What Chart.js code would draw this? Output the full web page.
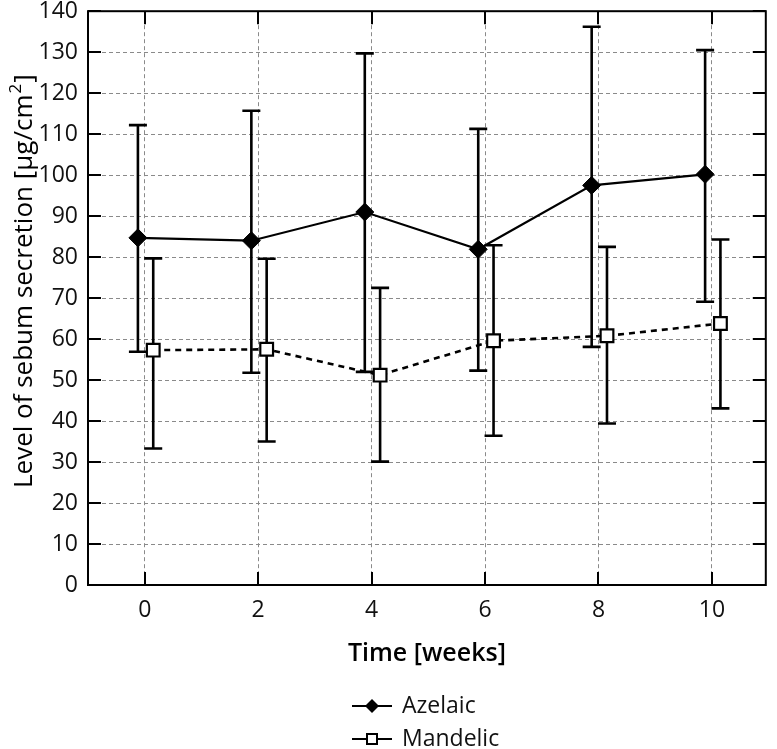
<!DOCTYPE html>
<html><head><meta charset="utf-8">
<script src="https://cdn.jsdelivr.net/npm/chart.js@4.4.0/dist/chart.umd.min.js"></script>
<style>html,body{margin:0;padding:0;background:#fff;overflow:hidden}</style>
</head><body>
<canvas id="c" width="777" height="749" style="display:block;width:777px;height:749px"></canvas>
<script>
// ---- data ----
const weeks = [0, 2, 4, 6, 8, 10];
const xTickLabels = ['0', '2', '4', '6', '8', '10'];
const seriesNames = ['Azelaic', 'Mandelic'];
const azelaicMean  = [84.7, 84.0, 91.0, 81.9, 97.5, 100.2];
const azelaicUpper = [112.2, 115.7, 129.7, 111.3, 136.2, 130.5];
const azelaicLower = [56.9, 51.8, 52.0, 52.3, 58.1, 69.1];
const mandelicMean  = [57.3, 57.5, 51.2, 59.6, 60.8, 63.8];
const mandelicUpper = [79.7, 79.6, 72.5, 82.9, 82.5, 84.3];
const mandelicLower = [33.3, 35.0, 30.1, 36.4, 39.4, 43.1];
const yTitleParts = ['Level of sebum secretion [µg/cm', '2', ']'];
const xTitle = 'Time [weeks]';

// ---- styling ----
const FONT = "'Open Sans', 'Noto Sans', sans-serif";
const OFFSETS = [-0.12, 0.15];   // horizontal dodge of the two series (x units)
const uppers = [azelaicUpper, mandelicUpper];
const lowers = [azelaicLower, mandelicLower];

const toPts = (means, off) => weeks.map((w, i) => ({x: w + off, y: means[i]}));

const decor = {
  id: 'decor',
  beforeDatasetsDraw(chart) {
    const {ctx, chartArea: a, scales: {x, y}} = chart;
    ctx.save();
    // inward tick marks
    ctx.strokeStyle = '#000'; ctx.lineWidth = 2;
    const TL = 13;
    ctx.beginPath();
    y.ticks.forEach(t => {
      const py = Math.round(y.getPixelForValue(t.value));
      ctx.moveTo(a.left, py); ctx.lineTo(a.left + TL, py);
      ctx.moveTo(a.right, py); ctx.lineTo(a.right - TL, py);
    });
    x.ticks.forEach(t => {
      const px = Math.round(x.getPixelForValue(t.value));
      ctx.moveTo(px, a.bottom); ctx.lineTo(px, a.bottom - TL);
      ctx.moveTo(px, a.top); ctx.lineTo(px, a.top + TL);
    });
    ctx.stroke();
    // frame
    ctx.lineWidth = 2;
    ctx.strokeRect(a.left, a.top, a.right - a.left, a.bottom - a.top);
    // error bars
    const CAP = 9;
    [0, 1].forEach(d => {
      weeks.forEach((w, i) => {
        const px = x.getPixelForValue(w + OFFSETS[d]);
        const pu = y.getPixelForValue(uppers[d][i]);
        const pl = y.getPixelForValue(lowers[d][i]);
        ctx.beginPath();
        ctx.moveTo(px, pu); ctx.lineTo(px, pl);
        ctx.moveTo(px - CAP, pu); ctx.lineTo(px + CAP, pu);
        ctx.moveTo(px - CAP, pl); ctx.lineTo(px + CAP, pl);
        ctx.lineWidth = 2.6; ctx.stroke();
      });
    });
    ctx.restore();
  },
  afterDraw(chart) {
    const {ctx} = chart;
    ctx.save();
    // y-axis title with real superscript
    ctx.translate(32, 488);
    ctx.rotate(-Math.PI / 2);
    ctx.fillStyle = '#000';
    ctx.textBaseline = 'alphabetic'; ctx.textAlign = 'left';
    ctx.font = `26px ${FONT}`;
    let cx = 0;
    ctx.fillText(yTitleParts[0], cx, 0); cx += ctx.measureText(yTitleParts[0]).width + 1;
    ctx.font = `17px ${FONT}`;
    ctx.fillText(yTitleParts[1], cx, -11); cx += ctx.measureText(yTitleParts[1]).width + 1;
    ctx.font = `26px ${FONT}`;
    ctx.fillText(yTitleParts[2], cx, 0);
    ctx.restore();

    ctx.save();
    const rows = [706, 739];
    rows.forEach((ry, d) => {
      ctx.strokeStyle = '#000'; ctx.lineWidth = 2; ctx.setLineDash([]);
      ctx.beginPath(); ctx.moveTo(352, ry); ctx.lineTo(392, ry); ctx.stroke();
      ctx.beginPath();
      if (d === 0) {
        ctx.moveTo(372, ry - 7); ctx.lineTo(379, ry); ctx.lineTo(372, ry + 7); ctx.lineTo(365, ry); ctx.closePath();
        ctx.fillStyle = '#000'; ctx.fill();
      } else {
        ctx.rect(367, ry - 5, 10, 10);
        ctx.fillStyle = '#fff'; ctx.fill(); ctx.lineWidth = 2; ctx.stroke();
      }
      ctx.fillStyle = '#111';
      ctx.font = `23px ${FONT}`;
      ctx.textBaseline = 'middle'; ctx.textAlign = 'left';
      ctx.fillText(seriesNames[d], 402, ry);
    });
    ctx.restore();
  }
};

new Chart(document.getElementById('c'), {
  type: 'line',
  data: {
    datasets: [
      {
        label: seriesNames[0],
        data: toPts(azelaicMean, OFFSETS[0]),
        borderColor: '#000', borderWidth: 2.2,
        pointStyle: 'rectRot', pointRadius: 9,
        pointBackgroundColor: '#000', pointBorderColor: '#000', pointBorderWidth: 1,
        tension: 0
      },
      {
        label: seriesNames[1],
        data: toPts(mandelicMean, OFFSETS[1]),
        borderColor: '#000', borderWidth: 2.6, borderDash: [6, 5],
        pointStyle: 'rect', pointRadius: 9,
        pointBackgroundColor: '#fff', pointBorderColor: '#000', pointBorderWidth: 2.2,
        tension: 0
      }
    ]
  },
  options: {
    responsive: false,
    animation: false,
    devicePixelRatio: 1,
    layout: {padding: {left: 0, right: 3, top: 11, bottom: 74}},
    plugins: {legend: {display: false}, tooltip: {enabled: false}},
    scales: {
      x: {
        type: 'linear', min: -1, max: 10.95,
        afterBuildTicks: s => { s.ticks = weeks.map(v => ({value: v})); },
        afterFit: s => { s.height = 90; s.paddingLeft = 0; s.paddingRight = 0; },
        ticks: {
          font: {family: FONT, size: 23}, color: '#111', padding: 12,
          callback: (v) => xTickLabels[weeks.indexOf(v)] ?? ''
        },
        grid: {color: '#8a8a8a', lineWidth: 1, drawTicks: false},
        border: {display: false, dash: [4, 3]},
        title: {display: true, text: xTitle, color: '#000',
                font: {family: FONT, size: 25, weight: '600'}, padding: {top: 0, bottom: 6}}
      },
      y: {
        min: 0, max: 140,
        afterFit: s => { s.width = 88; s.paddingTop = 0; s.paddingBottom = 0; },
        ticks: {stepSize: 10, font: {family: FONT, size: 23}, color: '#111', padding: 10},
        grid: {color: '#8a8a8a', lineWidth: 1, drawTicks: false},
        border: {display: false, dash: [4, 3]},
        title: {display: false}
      }
    }
  },
  plugins: [decor]
});
</script>
</body></html>
